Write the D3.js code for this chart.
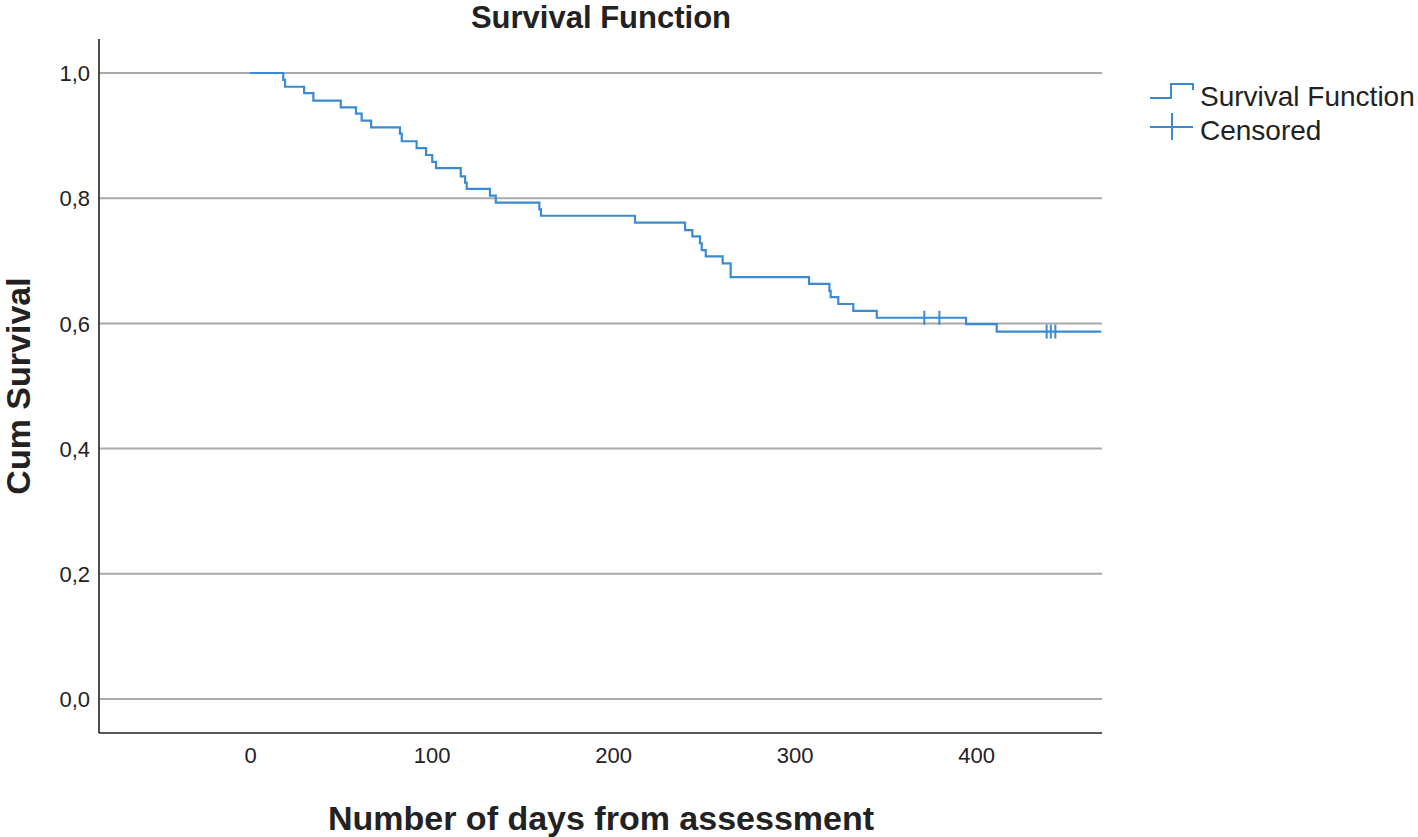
<!DOCTYPE html>
<html>
<head>
<meta charset="utf-8">
<script src="https://cdn.jsdelivr.net/npm/d3@7/dist/d3.min.js"></script>
<style>
  html, body { margin: 0; padding: 0; background: #ffffff; }
  svg { display: block; }
  text { font-family: "Liberation Sans", Arial, sans-serif; fill: #222222; }
</style>
</head>
<body>
<svg id="chart" width="1418" height="837"></svg>
<script>
// ---- data ----
const eventTimes = [18.3, 19.3, 29.8, 34.9, 50.0, 58.4, 61.5, 66.7, 82.6, 83.6,
  91.8, 97.0, 100.4, 102.5, 116.1, 118.5, 119.4, 132.2, 135.4, 159.4,
  160.3, 212.1, 239.7, 243.7, 247.9, 248.9, 251.1, 260.4, 264.8, 308.0,
  319.2, 319.9, 324.1, 332.4, 345.3, 394.5, 411.4];
const survival = [0.989, 0.978, 0.968, 0.956, 0.945, 0.935, 0.924, 0.913, 0.903, 0.891,
  0.880, 0.869, 0.858, 0.848, 0.835, 0.825, 0.815, 0.804, 0.793, 0.782,
  0.772, 0.761, 0.749, 0.739, 0.728, 0.717, 0.707, 0.696, 0.674, 0.663,
  0.652, 0.642, 0.631, 0.620, 0.609, 0.599, 0.587];
const censorTimes = [371.5, 379.8, 438.9, 441.2, 443.7];
const censorSurv = [0.609, 0.609, 0.587, 0.587, 0.587];
const lastTime = 469;
const xTicks = [0, 100, 200, 300, 400];
const yTicks = [0, 0.2, 0.4, 0.6, 0.8, 1.0];
const yTickLabels = ["0,0", "0,2", "0,4", "0,6", "0,8", "1,0"];
const legendLabels = ["Survival Function", "Censored"];

// ---- layout ----
const svg = d3.select("#chart");
const plot = { left: 99, right: 1102, top: 39, bottom: 733 };
const lineColor = "#3a8ad4";

const x = d3.scaleLinear().domain([-83.2, 469.4]).range([plot.left, plot.right]);
const y = d3.scaleLinear().domain([0, 1]).range([699, 73]);

// gridlines
svg.append("g").selectAll("line").data(yTicks).join("line")
  .attr("x1", plot.left).attr("x2", plot.right)
  .attr("y1", d => y(d)).attr("y2", d => y(d))
  .attr("stroke", "#aaaaaa").attr("stroke-width", 2);

// y axis
const yAxis = d3.axisLeft(y).tickValues(yTicks).tickSize(0).tickPadding(9)
  .tickFormat((d, i) => yTickLabels[i]);
const gy = svg.append("g").attr("transform", `translate(${plot.left},0)`).call(yAxis);
gy.select(".domain").remove();
gy.selectAll("text").style("font-size", "22px").attr("fill", "#222").attr("dy", "0.35em");
svg.append("line").attr("x1", plot.left).attr("x2", plot.left)
  .attr("y1", plot.top).attr("y2", plot.bottom)
  .attr("stroke", "#222").attr("stroke-width", 1.6);

// x axis
const xAxis = d3.axisBottom(x).tickValues(xTicks).tickSize(0).tickPadding(14)
  .tickFormat(d3.format("d"));
const gx = svg.append("g").attr("transform", `translate(0,${plot.bottom})`).call(xAxis);
gx.select(".domain").remove();
gx.selectAll("text").style("font-size", "22px").attr("fill", "#222");
svg.append("line").attr("x1", plot.left).attr("x2", plot.right)
  .attr("y1", plot.bottom).attr("y2", plot.bottom)
  .attr("stroke", "#222").attr("stroke-width", 1.6);

// survival curve
const pts = [[0, 1]].concat(eventTimes.map((t, i) => [t, survival[i]]));
pts.push([lastTime, survival[survival.length - 1]]);
const line = d3.line().x(d => x(d[0])).y(d => y(d[1])).curve(d3.curveStepAfter);
svg.append("path").attr("d", line(pts))
  .attr("fill", "none").attr("stroke", lineColor).attr("stroke-width", 2.2);

// censor marks
svg.append("g").selectAll("line").data(censorTimes).join("line")
  .attr("x1", d => x(d)).attr("x2", d => x(d))
  .attr("y1", (d, i) => y(censorSurv[i]) - 7).attr("y2", (d, i) => y(censorSurv[i]) + 7)
  .attr("stroke", lineColor).attr("stroke-width", 2);

// titles
svg.append("text").attr("x", 601).attr("y", 28).attr("text-anchor", "middle")
  .style("font-size", "31px").style("font-weight", "bold").text("Survival Function");
svg.append("text").attr("x", 601).attr("y", 830).attr("text-anchor", "middle")
  .style("font-size", "34px").style("font-weight", "bold").text("Number of days from assessment");
svg.append("text").attr("transform", "translate(30,386) rotate(-90)").attr("text-anchor", "middle")
  .style("font-size", "34px").style("font-weight", "bold").text("Cum Survival");

// legend
const lg = svg.append("g");
lg.append("path").attr("d", "M1150,98 H1171 V84 H1193 V90")
  .attr("fill", "none").attr("stroke", lineColor).attr("stroke-width", 2);
lg.append("line").attr("x1", 1150).attr("x2", 1193).attr("y1", 127).attr("y2", 127)
  .attr("stroke", lineColor).attr("stroke-width", 2);
lg.append("line").attr("x1", 1172).attr("x2", 1172).attr("y1", 113).attr("y2", 140)
  .attr("stroke", lineColor).attr("stroke-width", 2);
lg.selectAll("text.leg").data(legendLabels).join("text").attr("class", "leg")
  .attr("x", 1200).attr("y", (d, i) => 106 + i * 34)
  .style("font-size", "28px").text(d => d);
</script>
</body>
</html>
